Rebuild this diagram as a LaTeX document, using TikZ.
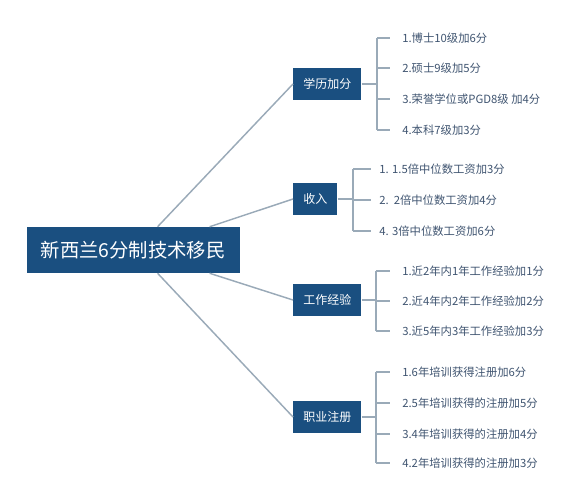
\documentclass[tikz,border=0pt]{standalone}
\usepackage{fontspec}
\setmainfont{Noto Sans CJK SC}
\usetikzlibrary{positioning}
\definecolor{boxblue}{HTML}{1A4F80}
\definecolor{linegray}{HTML}{9AAAB8}
\definecolor{itemtext}{HTML}{3F5470}
\tikzset{
    rootnode/.style = {shape=rectangle, fill=boxblue, text=white,
        minimum height=34.5pt, inner xsep=10.5pt, inner ysep=0pt,
        text width=139pt, align=left,
        font=\fontsize{14.5}{17}\selectfont},
    topic/.style    = {shape=rectangle, fill=boxblue, text=white,
        anchor=west, minimum height=24pt, inner xsep=7.5pt, inner ysep=0pt,
        font=\fontsize{9}{11}\selectfont},
    item/.style     = {anchor=west, text=itemtext, inner xsep=9pt, inner ysep=1pt,
        font=\fontsize{8.5}{10}\selectfont},
    link/.style     = {draw=linegray, line width=1.1pt}
}
\begin{document}
\begin{tikzpicture}[x=0.75pt, y=-0.75pt]
    \useasboundingbox (0,0) rectangle (568,500);
    % root and the four topics
    \node[rootnode] (root) at (133.5,250) {新西兰6分制技术移民};
    \node[topic] (xl) at (293,84)  {学历加分};
    \node[topic] (sr) at (293,199) {收入};
    \node[topic] (gz) at (293,300) {工作经验};
    \node[topic] (zy) at (293,417) {职业注册};
    \draw[link] (root.44)  -- (xl.west);
    \draw[link] (root.17)  -- (sr.west);
    \draw[link] (root.-17) -- (gz.west);
    \draw[link] (root.-44) -- (zy.west);
    % brackets
    \coordinate (xlbar) at (377,84);
    \coordinate (srbar) at (353,199);
    \coordinate (gzbar) at (376,300);
    \coordinate (zybar) at (376,417);
    \foreach \i/\y/\txt in {1/38/{1.博士10级加6分}, 2/68/{2.硕士9级加5分},
            3/99/{3.荣誉学位或PGD8级 加4分}, 4/130/{4.本科7级加3分}}{
        \node[item] (xl\i) at (390,\y) {\txt};
        \draw[link] (xl\i -| xlbar) -- (xl\i.west);
    }
    \foreach \i/\y/\txt in {1/169/{1. 1.5倍中位数工资加3分}, 2/200/{2.\ \ 2倍中位数工资加4分},
            3/231/{4. 3倍中位数工资加6分}}{
        \node[item, inner xsep=6pt] (sr\i) at (371,\y) {\txt};
        \draw[link] (sr\i -| srbar) -- (sr\i.west);
    }
    \foreach \i/\y/\txt in {1/271/{1.近2年内1年工作经验加1分}, 2/301/{2.近4年内2年工作经验加2分},
            3/331/{3.近5年内3年工作经验加3分}}{
        \node[item] (gz\i) at (390,\y) {\txt};
        \draw[link] (gz\i -| gzbar) -- (gz\i.west);
    }
    \foreach \i/\y/\txt in {1/372/{1.6年培训获得注册加6分}, 2/403/{2.5年培训获得的注册加5分},
            3/434/{3.4年培训获得的注册加4分}, 4/463/{4.2年培训获得的注册加3分}}{
        \node[item] (zy\i) at (390,\y) {\txt};
        \draw[link] (zy\i -| zybar) -- (zy\i.west);
    }
    \draw[link] (xl.east) -- (xlbar);
    \draw[link] (xl1 -| xlbar) -- (xl4 -| xlbar);
    \draw[link] (sr.east) -- (srbar);
    \draw[link] (sr1 -| srbar) -- (sr3 -| srbar);
    \draw[link] (gz.east) -- (gzbar);
    \draw[link] (gz1 -| gzbar) -- (gz3 -| gzbar);
    \draw[link] (zy.east) -- (zybar);
    \draw[link] (zy1 -| zybar) -- (zy4 -| zybar);
\end{tikzpicture}
\end{document}
